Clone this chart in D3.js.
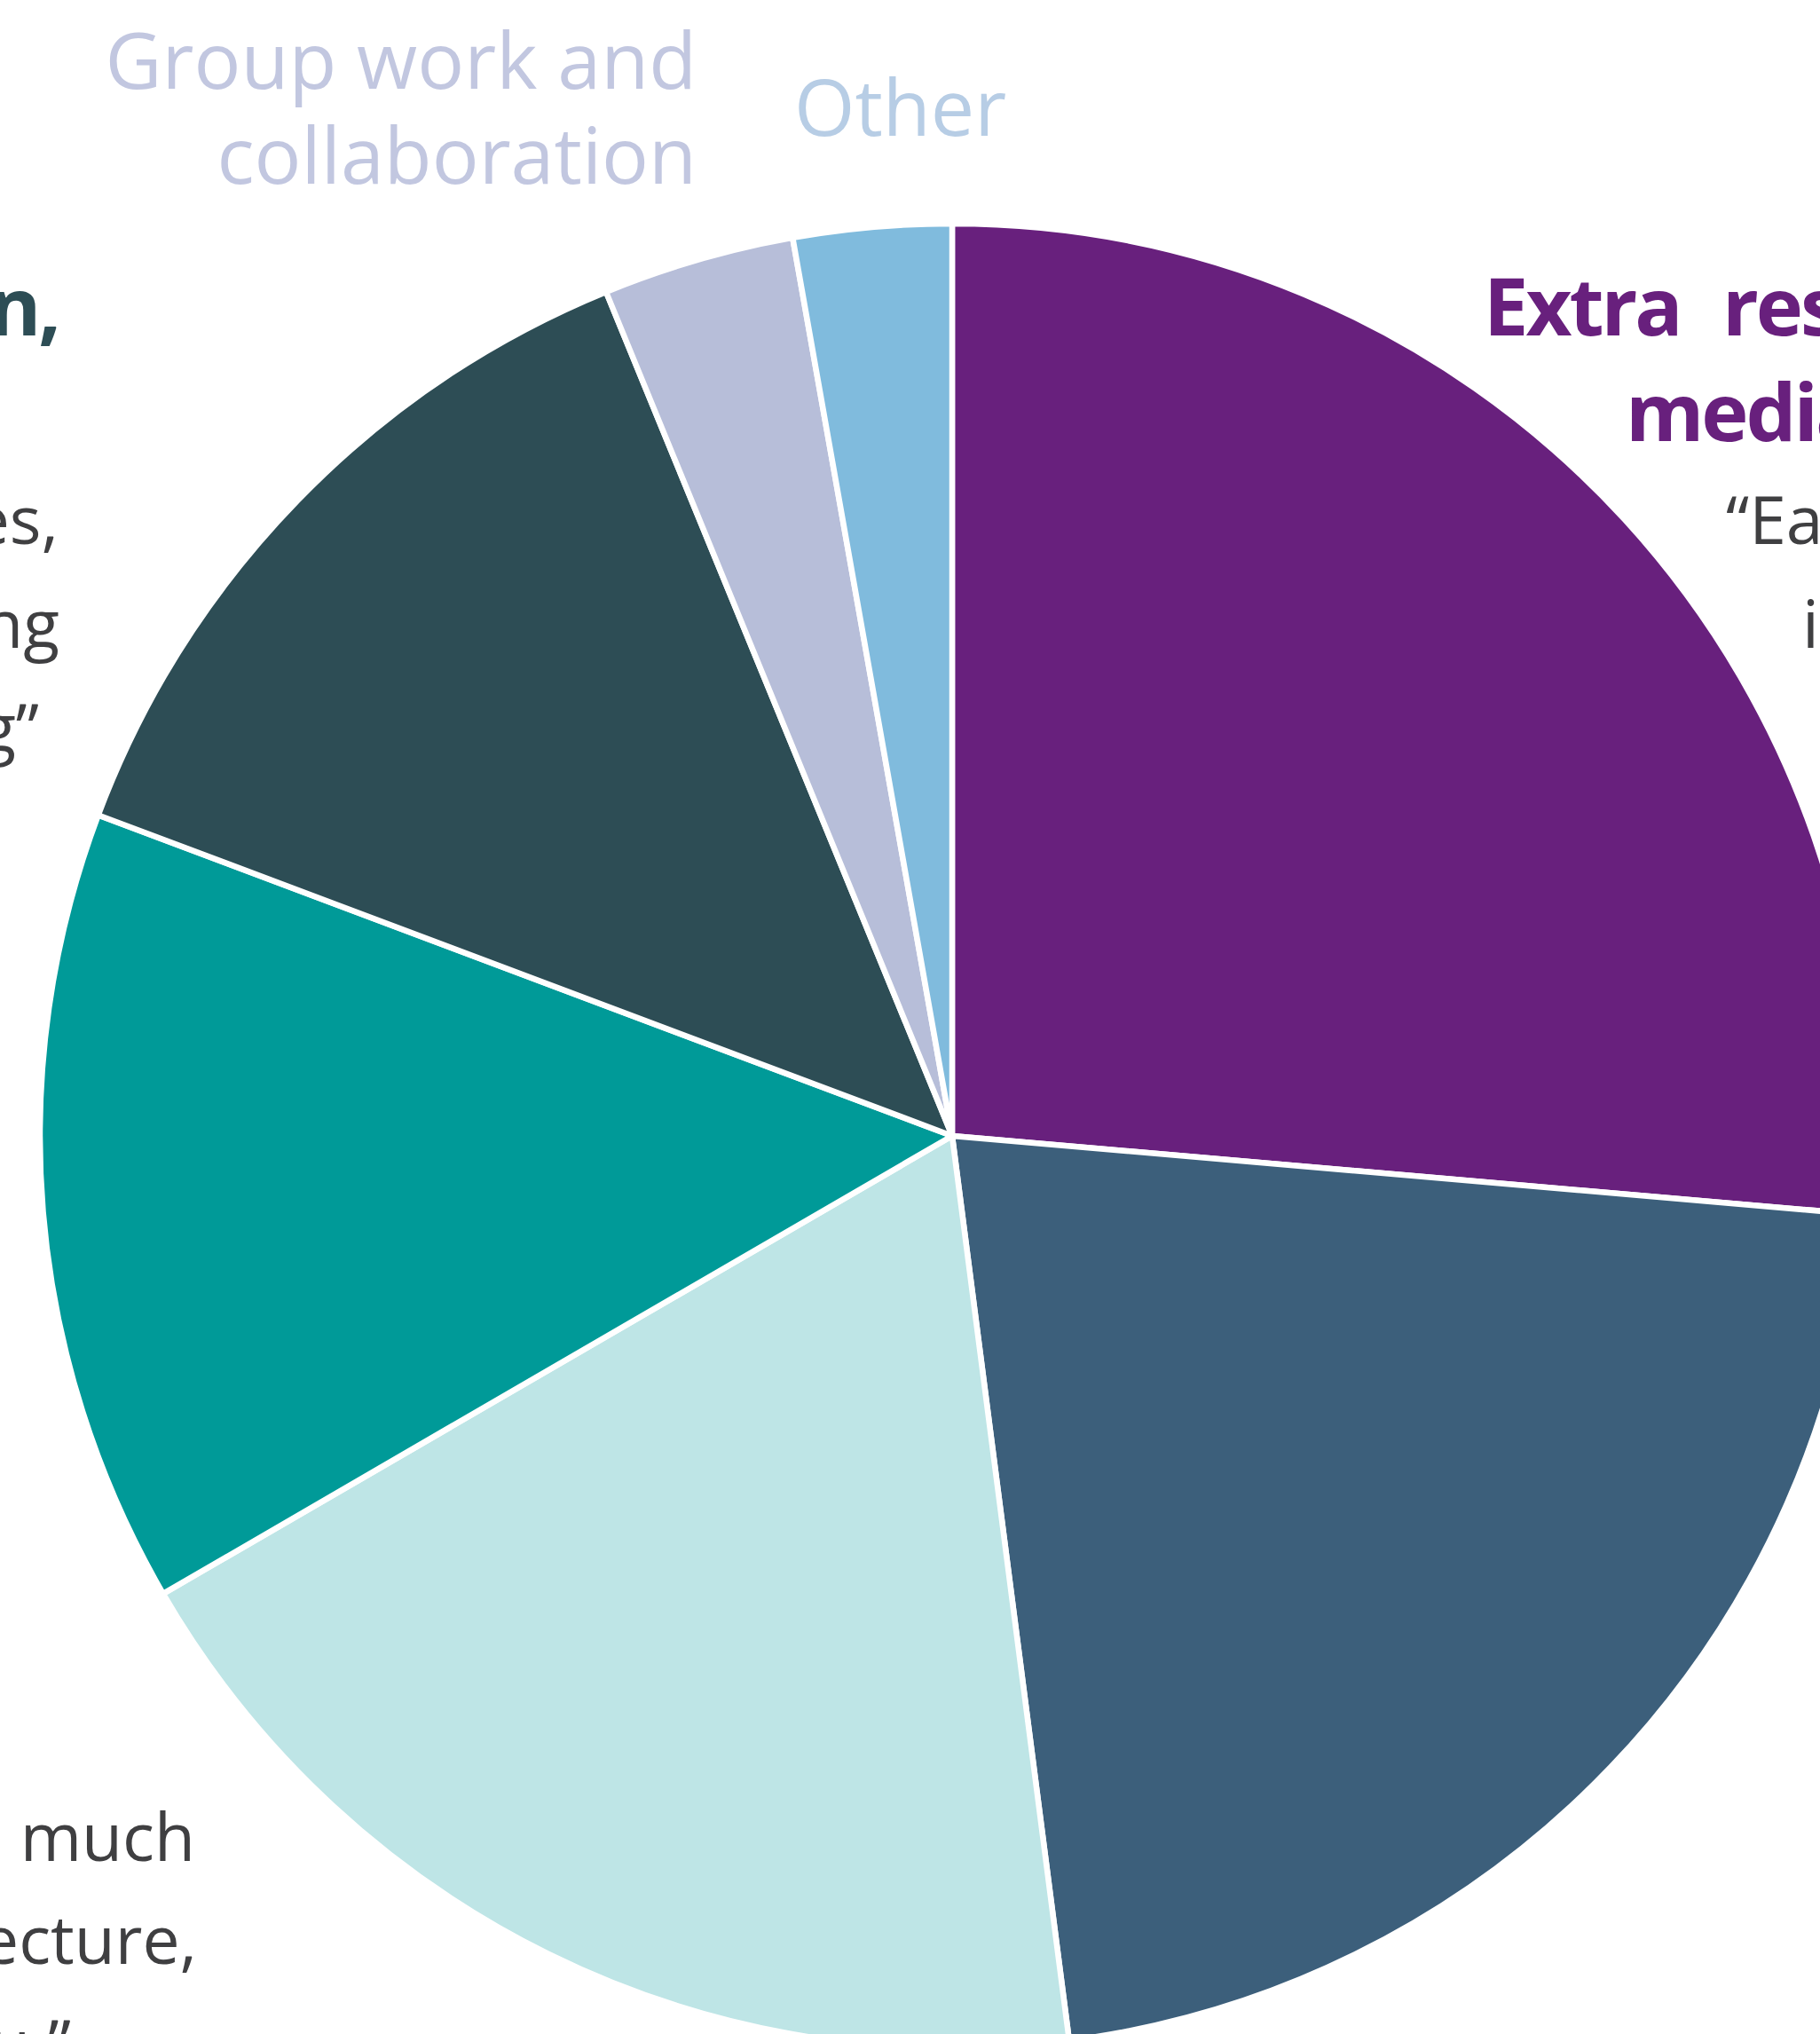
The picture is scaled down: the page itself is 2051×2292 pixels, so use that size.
<!DOCTYPE html>
<html>
<head>
<meta charset="utf-8">
<script src="https://cdn.jsdelivr.net/npm/d3@7"></script>
<style>
  body { margin: 0; background: #fff; }
  svg { display: block; font-family: "Open Sans", "Noto Sans", sans-serif; }
</style>
</head>
<body>
<div id="chart"></div>
<script>
// Slices, clockwise from 12 o'clock
const categories = ['Extra resources and media', 'Slate', 'Light cyan', 'Teal', 'Explanation', 'Group work and collaboration', 'Other'];
const shares = [26.4, 21.6, 18.7, 14.1, 13.1, 3.4, 2.8];
const sliceColors = ['#68207d', '#3c5f7b', '#bee5e6', '#009a98', '#2d4d55', '#b7bed9', '#80bbdd'];

// Outer labels for the two small slices
const smallLabels = [
  { lines: ['Group work and', 'collaboration'], color: '#c2c7e0', x: 785, y: 100, anchor: 'end' },
  { lines: ['Other'], color: '#b7cde5', x: 895, y: 153, anchor: 'start' }
];

// Titles and quotes (mostly cut off by the frame)
const titleBits = [
  { text: 'Extra', color: '#68207d', x: 1672, y: 378, anchor: 'start' },
  { text: 'resources', color: '#68207d', x: 1941, y: 378, anchor: 'start' },
  { text: 'media', color: '#68207d', x: 1832, y: 497, anchor: 'start' },
  { text: 'n,', color: '#2d4d55', x: 66, y: 378, anchor: 'end' }
];
const quoteBits = [
  { text: '\u201cEa', x: 1945, y: 613, anchor: 'start' },
  { text: 'i', x: 2031, y: 730, anchor: 'start' },
  { text: 'es,', x: 66, y: 613, anchor: 'end' },
  { text: 'ng', x: 67, y: 730, anchor: 'end' },
  { text: 'g\u201d', x: 44, y: 847, anchor: 'end' },
  { text: 'much', x: 220, y: 2097, anchor: 'end' },
  { text: 'ecture,', x: 222, y: 2213, anchor: 'end' },
  { text: 'u.\u201d', x: 80, y: 2330, anchor: 'end' }
];

const width = 2051;
const height = 2292;
const cx = 1073, cy = 1280, radius = 1028;

const svg = d3.select('#chart')
  .append('svg')
  .attr('width', width)
  .attr('height', height);

svg.append('rect').attr('width', width).attr('height', height).attr('fill', '#fff');

const pie = d3.pie().sort(null).value(d => d)(shares);
const arc = d3.arc().innerRadius(0).outerRadius(radius);

svg.append('g')
  .attr('transform', `translate(${cx},${cy})`)
  .selectAll('path')
  .data(pie)
  .join('path')
  .attr('d', arc)
  .attr('fill', (d, i) => sliceColors[i])
  .attr('stroke', '#fff')
  .attr('stroke-width', 6.5)
  .attr('stroke-linejoin', 'round');

// Small slice labels
smallLabels.forEach(l => {
  const t = svg.append('text')
    .attr('x', l.x)
    .attr('y', l.y)
    .attr('text-anchor', l.anchor)
    .attr('fill', l.color)
    .attr('font-size', 88);
  l.lines.forEach((line, i) => {
    t.append('tspan').attr('x', l.x).attr('dy', i ? 107 : 0).text(line);
  });
});

svg.append('g')
  .selectAll('text')
  .data(titleBits)
  .join('text')
  .attr('x', d => d.x)
  .attr('y', d => d.y)
  .attr('text-anchor', d => d.anchor)
  .attr('fill', d => d.color)
  .attr('font-weight', 700)
  .attr('font-size', 90)
  .attr('letter-spacing', -3)
  .text(d => d.text);

svg.append('g')
  .selectAll('text')
  .data(quoteBits)
  .join('text')
  .attr('x', d => d.x)
  .attr('y', d => d.y)
  .attr('text-anchor', d => d.anchor)
  .attr('fill', '#3f3f41')
  .attr('font-size', 75)
  .text(d => d.text);
</script>
</body>
</html>
